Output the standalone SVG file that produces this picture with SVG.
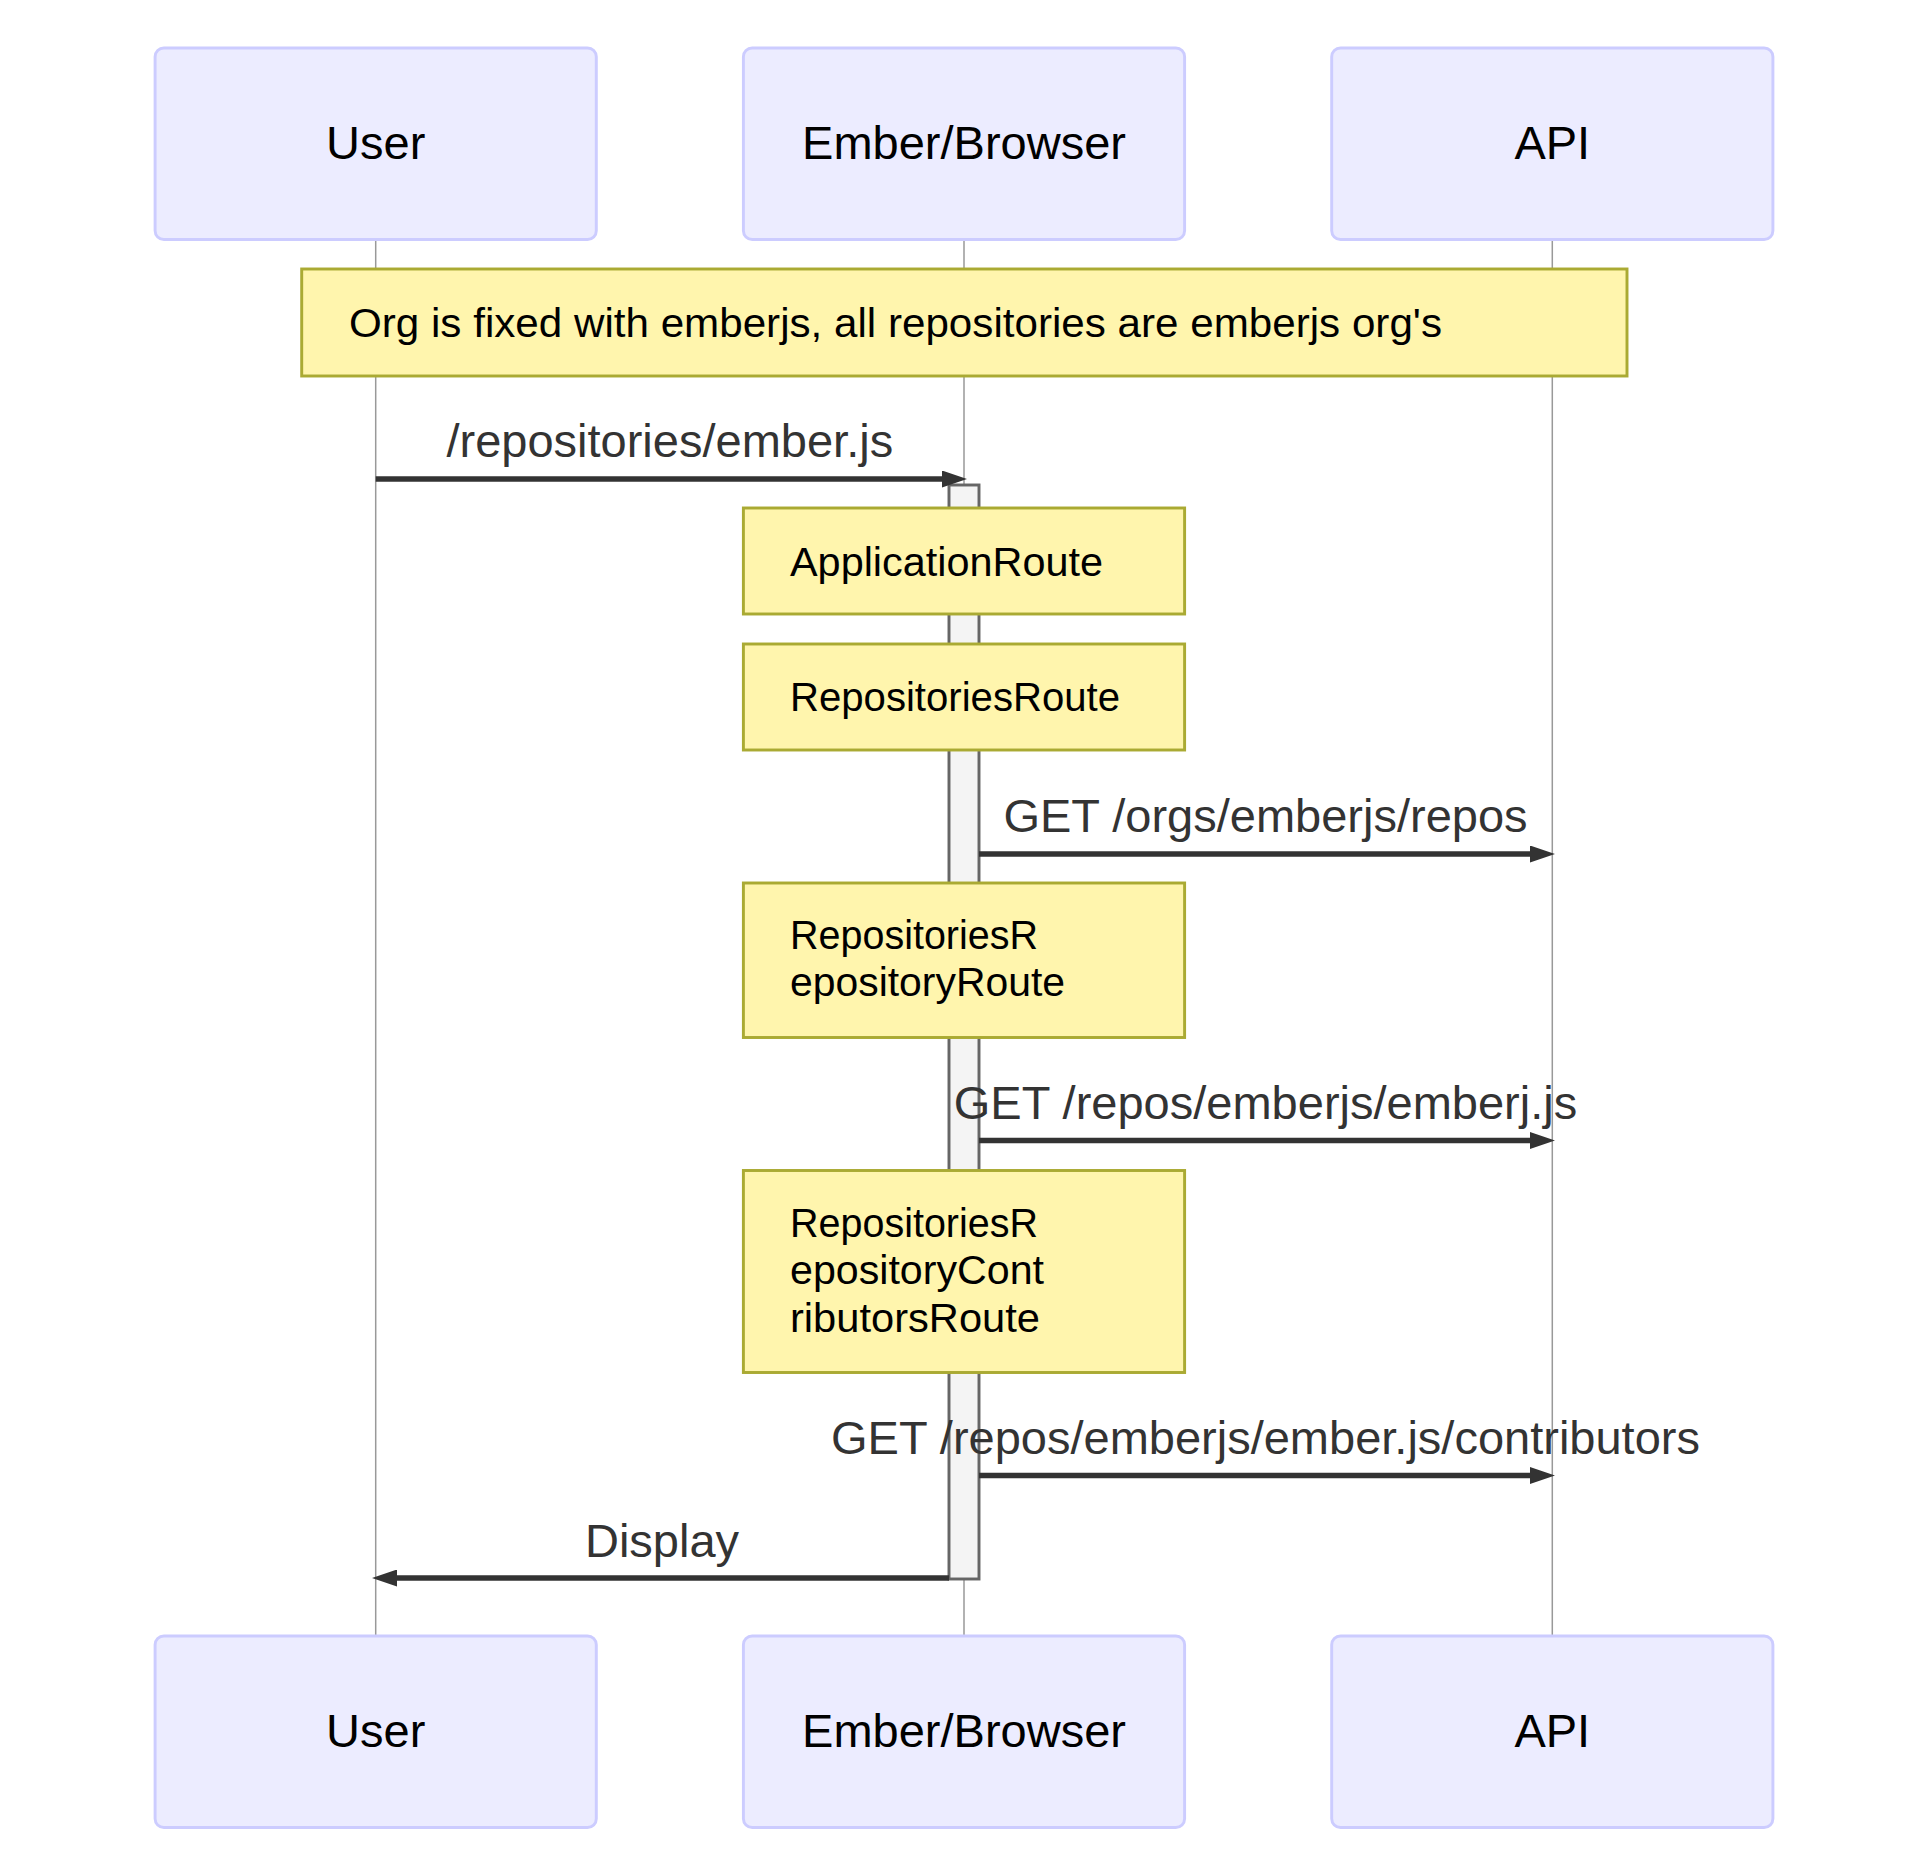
<svg xmlns="http://www.w3.org/2000/svg" width="1920" height="1851" viewBox="0 0 1920 1851">
<style>
.actor{fill:#ECECFF;stroke:#CCCCFF;stroke-width:2.94}
.atext{font-family:"Liberation Sans",Arial,sans-serif;font-size:47px;fill:#000;text-anchor:middle}
.life{stroke:#999;stroke-width:1.5}
.note{fill:#fff5ad;stroke:#aaaa33;stroke-width:2.94}
.ntext{font-family:"Liberation Sans",Arial,sans-serif;font-size:41px;fill:#000}
.act{fill:#f4f4f4;stroke:#666;stroke-width:2.94}
.msg{stroke:#333;stroke-width:5.5;fill:none;marker-end:url(#arrow)}
.mtext{font-family:"Liberation Sans",Arial,sans-serif;font-size:47px;fill:#333;text-anchor:middle}
</style>
<defs>
<marker id="arrow" markerUnits="userSpaceOnUse" markerWidth="25" markerHeight="17" viewBox="0 0 25 17" refX="15" refY="8.5" orient="auto">
<path d="M0,0 L25,8.5 L0,17 z" fill="#333"/>
</marker>
</defs>
<rect width="1920" height="1851" fill="#fff"/>
<g id="lifelines">
<line class="life" x1="375.7" y1="239.5" x2="375.7" y2="1636"/>
<line class="life" x1="964" y1="239.5" x2="964" y2="1636"/>
<line class="life" x1="1552.3" y1="239.5" x2="1552.3" y2="1636"/>
</g>
<g id="actor-user-top"><rect class="actor" x="155.1" y="48" width="441.2" height="191.5" rx="8.8"/><text class="atext" x="375.7" y="158.5">User</text></g>
<g id="actor-ember-top"><rect class="actor" x="743.4" y="48" width="441.2" height="191.5" rx="8.8"/><text class="atext" x="964" y="158.5">Ember/Browser</text></g>
<g id="actor-api-top"><rect class="actor" x="1331.7" y="48" width="441.2" height="191.5" rx="8.8"/><text class="atext" x="1552.3" y="158.5">API</text></g>
<g id="activation"><rect class="act" x="949" y="485" width="30" height="1094"/></g>
<g id="note-org"><rect class="note" x="301.7" y="269" width="1325.3" height="107"/><text class="ntext" x="349" y="337" textLength="1093" lengthAdjust="spacingAndGlyphs">Org is fixed with emberjs, all repositories are emberjs org's</text></g>
<g id="note-app"><rect class="note" x="743.4" y="508" width="441.2" height="106"/><text class="ntext" x="790" y="576" textLength="313" lengthAdjust="spacingAndGlyphs">ApplicationRoute</text></g>
<g id="note-repos"><rect class="note" x="743.4" y="644" width="441.2" height="106"/><text class="ntext" x="790" y="711" textLength="330" lengthAdjust="spacingAndGlyphs">RepositoriesRoute</text></g>
<g id="note-repo"><rect class="note" x="743.4" y="883" width="441.2" height="154.5"/><text class="ntext" x="790" y="948.5" textLength="248" lengthAdjust="spacingAndGlyphs">RepositoriesR</text><text class="ntext" x="790" y="995.5" textLength="275" lengthAdjust="spacingAndGlyphs">epositoryRoute</text></g>
<g id="note-contrib"><rect class="note" x="743.4" y="1170.5" width="441.2" height="202"/><text class="ntext" x="790" y="1236.7" textLength="248" lengthAdjust="spacingAndGlyphs">RepositoriesR</text><text class="ntext" x="790" y="1284" textLength="254" lengthAdjust="spacingAndGlyphs">epositoryCont</text><text class="ntext" x="790" y="1331.7" textLength="250" lengthAdjust="spacingAndGlyphs">ributorsRoute</text></g>
<g id="messages">
<line class="msg" x1="375.7" y1="479" x2="957" y2="479"/>
<text class="mtext" x="669.8" y="457">/repositories/ember.js</text>
<line class="msg" x1="979" y1="854" x2="1545" y2="854"/>
<text class="mtext" x="1265.5" y="832">GET /orgs/emberjs/repos</text>
<line class="msg" x1="979" y1="1140.5" x2="1545" y2="1140.5"/>
<text class="mtext" x="1265.5" y="1119">GET /repos/emberjs/emberj.js</text>
<line class="msg" x1="979" y1="1475.5" x2="1545" y2="1475.5"/>
<text class="mtext" x="1265.5" y="1453.5">GET /repos/emberjs/ember.js/contributors</text>
<line class="msg" x1="949" y1="1578" x2="382" y2="1578"/>
<text class="mtext" x="662" y="1556.5">Display</text>
</g>
<g id="actor-user-bottom"><rect class="actor" x="155.1" y="1636" width="441.2" height="191.5" rx="8.8"/><text class="atext" x="375.7" y="1746.5">User</text></g>
<g id="actor-ember-bottom"><rect class="actor" x="743.4" y="1636" width="441.2" height="191.5" rx="8.8"/><text class="atext" x="964" y="1746.5">Ember/Browser</text></g>
<g id="actor-api-bottom"><rect class="actor" x="1331.7" y="1636" width="441.2" height="191.5" rx="8.8"/><text class="atext" x="1552.3" y="1746.5">API</text></g>
</svg>
